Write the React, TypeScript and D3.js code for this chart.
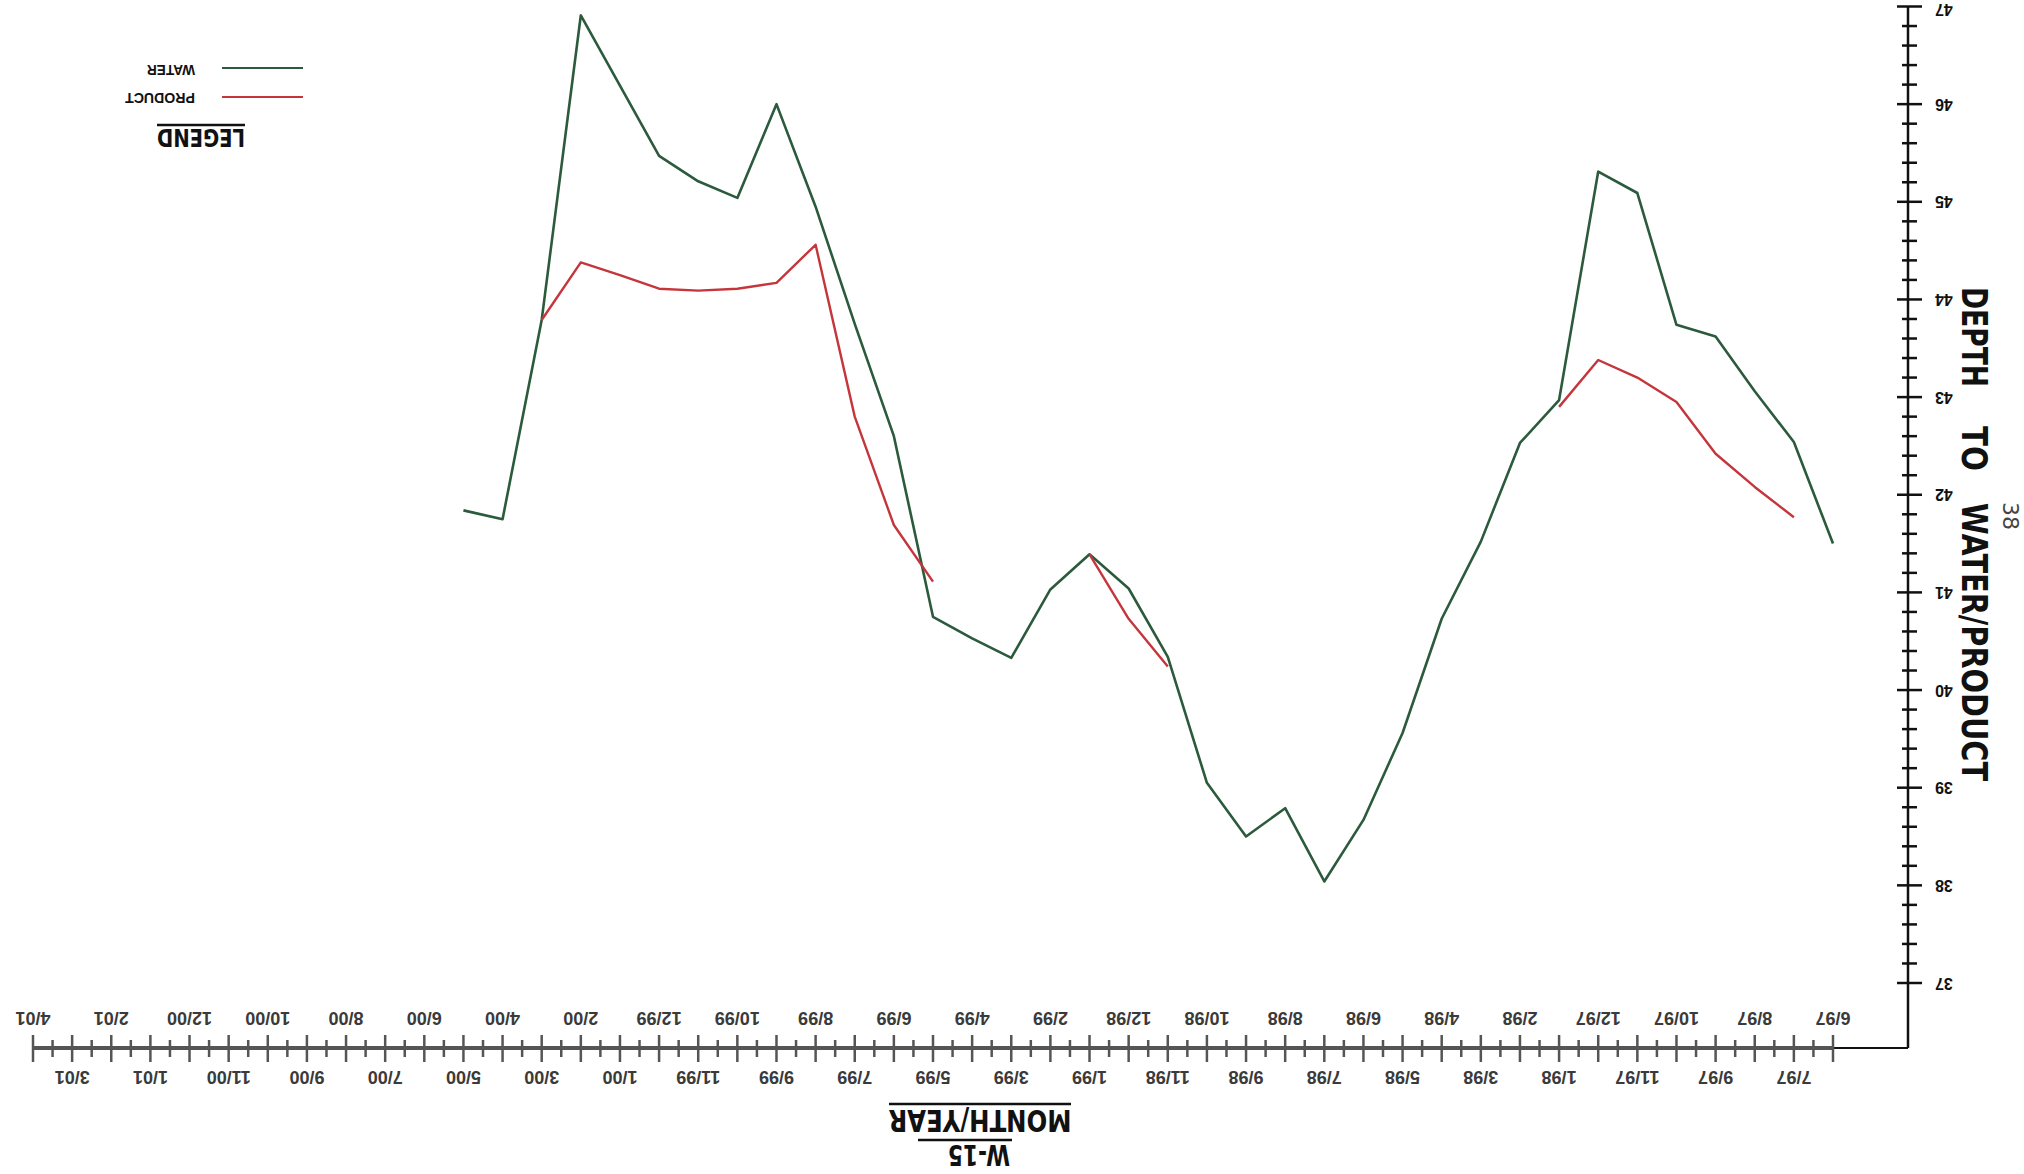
import * as d3 from 'd3'
import React from 'react'

// month ticks, 6/97 .. 4/01
const months = [
  '6/97', '7/97', '8/97', '9/97', '10/97', '11/97', '12/97',
  '1/98', '2/98', '3/98', '4/98', '5/98', '6/98', '7/98', '8/98', '9/98', '10/98', '11/98', '12/98',
  '1/99', '2/99', '3/99', '4/99', '5/99', '6/99', '7/99', '8/99', '9/99', '10/99', '11/99', '12/99',
  '1/00', '2/00', '3/00', '4/00', '5/00', '6/00', '7/00', '8/00', '9/00', '10/00', '11/00', '12/00',
  '1/01', '2/01', '3/01', '4/01',
]

// depth to water / product (ft), one reading per month from 6/97
const water = [
  41.50, 42.54, 43.06, 43.62, 43.74, 45.09, 45.31,
  42.97, 42.53, 41.52, 40.73, 39.56, 38.67, 38.04, 38.79, 38.50, 39.05, 40.34, 41.04,
  41.39, 41.03, 40.33, 40.53, 40.75, 42.60, 43.75, 44.95, 46.00, 45.04, 45.21, 45.47,
  46.19, 46.91, 43.79, 41.75, 41.84,
]
const product = [
  null, 41.77, 42.08, 42.42, 42.95, 43.20, 43.38,
  42.90, null, null, null, null, null, null, null, null, null, 40.24, 40.73,
  41.39, null, null, null, 41.11, 41.69, 42.80, 44.56, 44.17, 44.11, 44.09, 44.11,
  44.25, 44.38, 43.79,
]

const depthTicks = [37, 38, 39, 40, 41, 42, 43, 44, 45, 46, 47]
const yTitle = ['DEPTH', 'TO', 'WATER/PRODUCT']

const W = 2024
const H = 1174
const font = 'Liberation Sans, Arial, sans-serif'
const heavy = 'DejaVu Sans, Liberation Sans, sans-serif'

const App = () => {
  const x = d3.scaleLinear().domain([0, months.length - 1]).range([191, 1991])
  const y = d3.scaleLinear().domain([37, 47]).range([191, 1167.5])

  const axisY = 126
  const axisX = 116

  const line = d3.line<number | null>()
    .defined(d => d != null)
    .x((d, i) => x(i))
    .y(d => y(d as number))

  const halfTicks = d3.range(0.5, months.length - 1, 1)
  const minorDepth = d3.range(0, 50).map(k => 37 + k * 0.2).filter(v => Math.abs(v - Math.round(v)) > 0.01)

  // vertical title pieces: start (bottom) and length along the axis
  const titleStart = [887, 748, 671]
  const titleLen = [100, 45, 278]

  return (
    <svg width={W} height={H} style={{ position: 'absolute', left: 0, top: 0, background: '#fff' }}>
      {/* the scanned sheet is upside down */}
      <g transform={`rotate(180 ${W / 2} ${H / 2})`} fontFamily={font}>
        {/* x axis */}
        <line x1={axisX} x2={x(months.length - 1)} y1={axisY} y2={axisY} stroke="#111" strokeWidth={2} />
        <line x1={x(0)} x2={x(months.length - 1)} y1={axisY} y2={axisY} stroke="#555" strokeWidth={4} />
        {months.map((m, i) => (
          <line key={'mt' + m} x1={x(i)} x2={x(i)} y1={axisY - 14} y2={axisY + 13} stroke="#555" strokeWidth={2.5} />
        ))}
        {halfTicks.map(t => (
          <line key={'ht' + t} x1={x(t)} x2={x(t)} y1={axisY - 9} y2={axisY + 8} stroke="#555" strokeWidth={2.5} />
        ))}
        {months.map((m, i) => (
          <text key={'ml' + m} x={x(i)} y={i % 2 === 0 ? 156 : 97} textAnchor="middle"
            dominantBaseline="central" fontSize={18} fontWeight="bold" fill="#3a3a3a">{m}</text>
        ))}

        {/* y axis */}
        <line x1={axisX} x2={axisX} y1={axisY} y2={y(47)} stroke="#111" strokeWidth={2.5} />
        {depthTicks.map(d => (
          <g key={'dt' + d}>
            <line x1={axisX - 14} x2={axisX + 11} y1={y(d)} y2={y(d)} stroke="#111" strokeWidth={2.5} />
            <text x={89} y={Math.min(y(d), H - 9)} textAnchor="end" dominantBaseline="central" fontSize={16}
              fontWeight="bold" fill="#111">{d}</text>
          </g>
        ))}
        {minorDepth.map(d => (
          <line key={'md' + d.toFixed(1)} x1={axisX - 9} x2={axisX + 6} y1={y(d)} y2={y(d)} stroke="#111" strokeWidth={2.5} />
        ))}

        {/* titles */}
        {yTitle.map((t, k) => (
          <text key={t} transform={`translate(62 ${titleStart[k]}) rotate(-90)`} fontFamily={heavy} fontSize={36}
            fontWeight="bold" fill="#111" textLength={titleLen[k]} lengthAdjust="spacingAndGlyphs">{t}</text>
        ))}
        <text x={1044} y={64} textAnchor="middle" fontFamily={heavy} fontSize={30} fontWeight="bold"
          fill="#111" textLength={183} lengthAdjust="spacingAndGlyphs">MONTH/YEAR</text>
        <line x1={953} x2={1135} y1={70} y2={70} stroke="#111" strokeWidth={2.5} />
        <text x={1045} y={29} textAnchor="middle" fontFamily={heavy} fontSize={29} fontWeight="bold"
          fill="#111" textLength={62} lengthAdjust="spacingAndGlyphs">W-15</text>
        <line x1={1012} x2={1106} y1={34} y2={34} stroke="#111" strokeWidth={2.5} />
        <text transform={`translate(14 658) rotate(-90)`} textAnchor="middle" dominantBaseline="central"
          fontSize={22} fill="#444" fontFamily="DejaVu Sans, sans-serif">38</text>

        {/* series */}
        <path d={line(water) ?? ''} fill="none" stroke="#2c5a3c" strokeWidth={2.6} strokeLinejoin="round" />
        <path d={line(product) ?? ''} fill="none" stroke="#c4363c" strokeWidth={2.4} strokeLinejoin="round" />

        {/* legend */}
        <text x={1823} y={1045} textAnchor="middle" fontFamily={heavy} fontSize={24} fontWeight="bold"
          fill="#111" textLength={88} lengthAdjust="spacingAndGlyphs">LEGEND</text>
        <line x1={1779} x2={1867} y1={1049} y2={1049} stroke="#111" strokeWidth={2.5} />
        <line x1={1721} x2={1802} y1={1077} y2={1077} stroke="#c4363c" strokeWidth={2} />
        <text x={1829} y={1076} dominantBaseline="central" fontSize={14} fontWeight="bold" fill="#111"
          textLength={70} lengthAdjust="spacingAndGlyphs">PRODUCT</text>
        <line x1={1721} x2={1802} y1={1106} y2={1106} stroke="#2c5a3c" strokeWidth={2} />
        <text x={1829} y={1104} dominantBaseline="central" fontSize={14} fontWeight="bold" fill="#111"
          textLength={48} lengthAdjust="spacingAndGlyphs">WATER</text>
      </g>
    </svg>
  )
}

export default App
